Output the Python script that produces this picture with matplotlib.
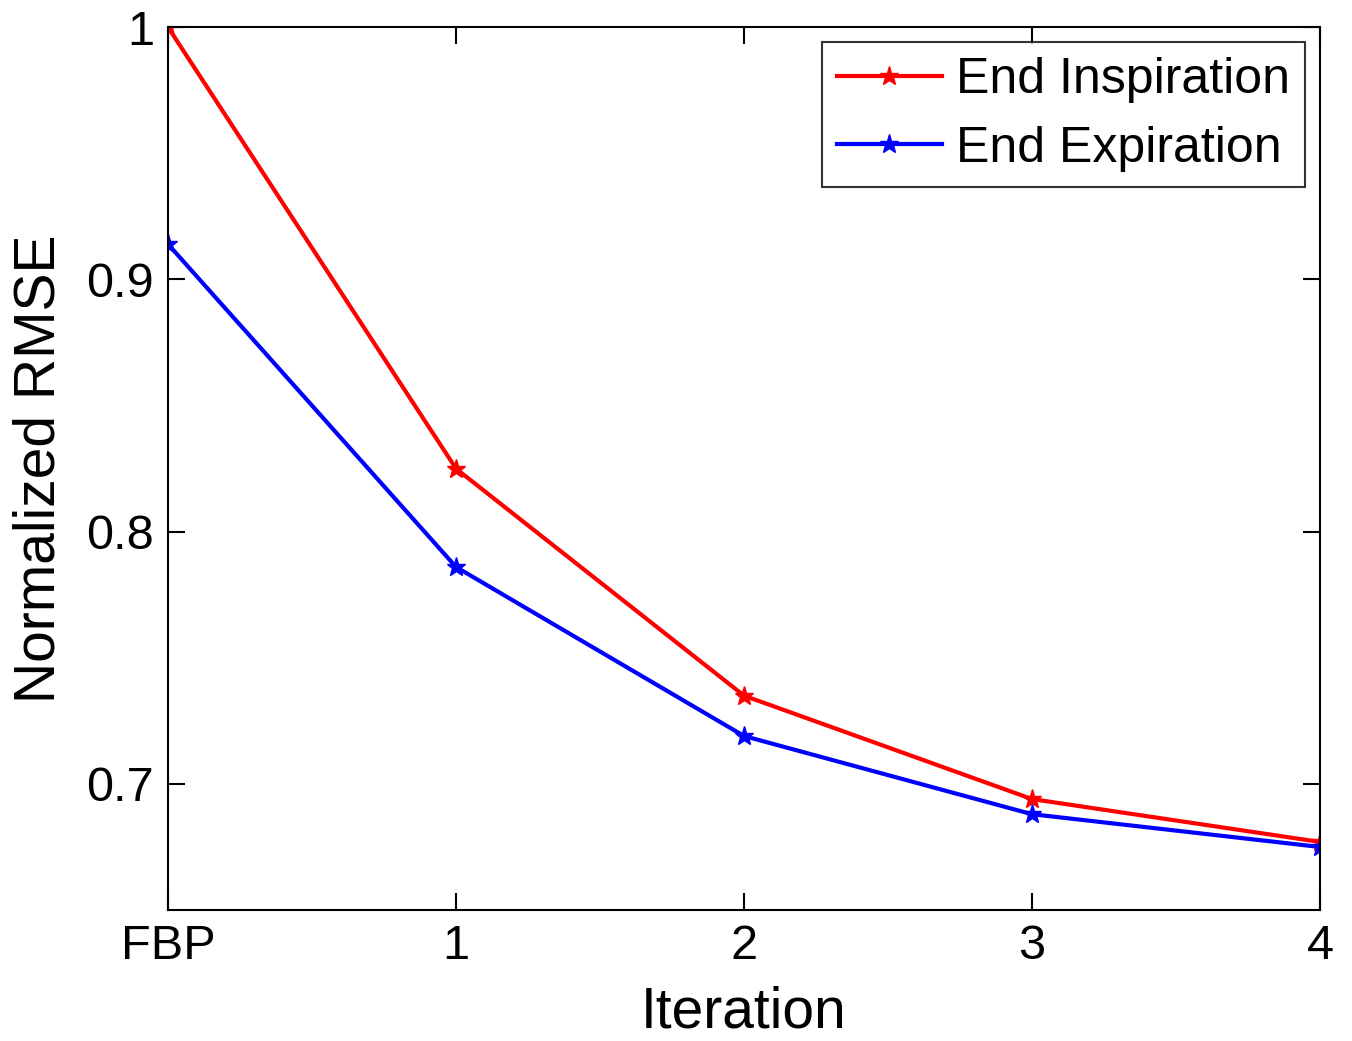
import matplotlib
matplotlib.use("Agg")
import matplotlib.pyplot as plt

categories = ["FBP", "1", "2", "3", "4"]
end_inspiration = [1.0, 0.825, 0.735, 0.694, 0.677]
end_expiration = [0.914, 0.786, 0.719, 0.688, 0.675]
yticks = [0.7, 0.8, 0.9, 1.0]
ytick_labels = ["0.7", "0.8", "0.9", "1"]

plt.rcParams['font.family'] = ['Liberation Sans', 'DejaVu Sans']

fig = plt.figure(figsize=(13.52, 10.41), dpi=100)
ax = fig.add_axes([0.1243, 0.1258, 0.852, 0.848])
x = list(range(len(categories)))
ax.plot(x, end_inspiration, color='red', lw=3, marker='*', ms=14, label='End Inspiration')
ax.plot(x, end_expiration, color='blue', lw=3, marker='*', ms=14, label='End Expiration')

ax.set_xlim(0, 4)
ax.set_ylim(0.65, 1.0)
ax.set_xticks(x)
ax.set_xticklabels(categories)
ax.set_yticks(yticks)
ax.set_yticklabels(ytick_labels)
ax.tick_params(direction='in', length=12, width=1.5, labelsize=35, top=True, right=True, pad=10)
for s in ax.spines.values():
    s.set_linewidth(1.5)
ax.set_xlabel('Iteration', fontsize=41, labelpad=12)
ax.set_ylabel('Normalized RMSE', fontsize=41, labelpad=14)
leg = ax.legend(loc='upper right', fontsize=36, frameon=True, fancybox=False, edgecolor='black',
                handlelength=2.1, borderaxespad=0.3, labelspacing=0.45, handletextpad=0.28,
                borderpad=0.3)
leg.get_frame().set_linewidth(1.5)
fig.savefig('out.png', dpi=100)
